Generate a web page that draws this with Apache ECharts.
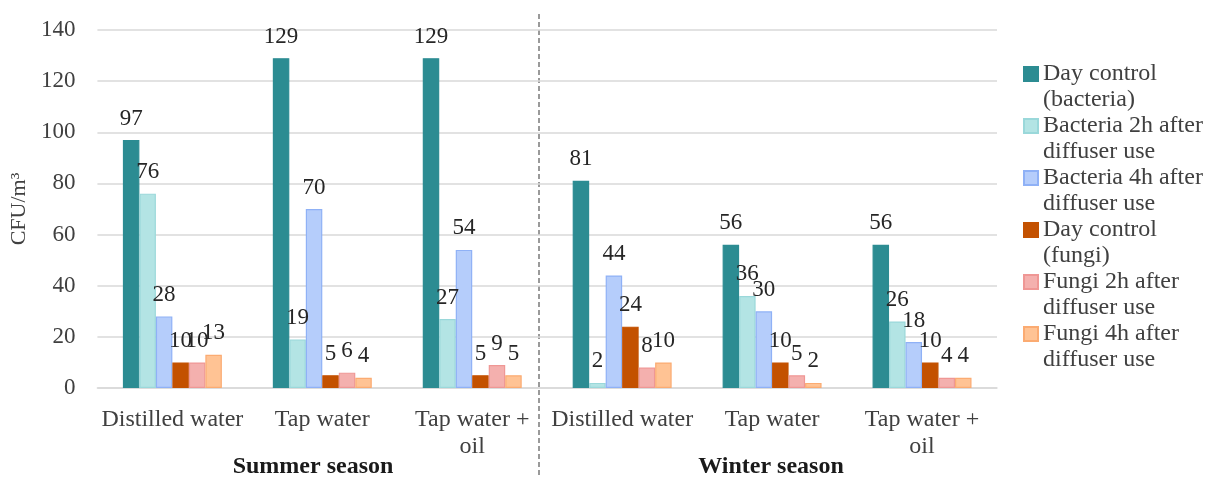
<!DOCTYPE html>
<html>
<head>
<meta charset="utf-8">
<script src="https://cdn.jsdelivr.net/npm/echarts@6/dist/echarts.min.js"></script>
<style>
  html, body { margin: 0; padding: 0; background: #ffffff; }
  #chart { width: 1210px; height: 477px; }
</style>
</head>
<body>
<div id="chart"></div>
<script>
// Water type per sampling, summer block then winter block
const categories = ['Distilled water', 'Tap water', 'Tap water +\noil', 'Distilled water', 'Tap water', 'Tap water +\noil'];
const seasons = ['Summer season', 'Winter season'];

const seriesNames = [
  'Day control (bacteria)',
  'Bacteria 2h after diffuser use',
  'Bacteria 4h after diffuser use',
  'Day control (fungi)',
  'Fungi 2h after diffuser use',
  'Fungi 4h after diffuser use'
];
const legendLabels = [
  'Day control\n(bacteria)',
  'Bacteria 2h after\ndiffuser use',
  'Bacteria 4h after\ndiffuser use',
  'Day control\n(fungi)',
  'Fungi 2h after\ndiffuser use',
  'Fungi 4h after\ndiffuser use'
];

// CFU/m3 values
const dayControlBacteria = [97, 129, 129, 81, 56, 56];
const bacteria2h = [76, 19, 27, 2, 36, 26];
const bacteria4h = [28, 70, 54, 44, 30, 18];
const dayControlFungi = [10, 5, 5, 24, 10, 10];
const fungi2h = [10, 6, 9, 8, 5, 4];
const fungi4h = [13, 4, 5, 10, 2, 4];

const yTicks = { min: 0, max: 140, interval: 20 };

const seriesValues = [dayControlBacteria, bacteria2h, bacteria4h, dayControlFungi, fungi2h, fungi4h];
const fills = ['#2c8c92', '#b3e4e4', '#b5cdfb', '#c35100', '#f4b0ae', '#ffc394'];
const borders = ['#2c8c92', '#9ad8da', '#8fb1f6', '#c35100', '#ef9795', '#fbab72'];

const FONT = '"Liberation Serif", "Times New Roman", serif';
const TEXT = '#404040';

const chart = echarts.init(document.getElementById('chart'), null, { renderer: 'canvas' });

const series = seriesNames.map((name, i) => ({
  name: name,
  type: 'bar',
  data: seriesValues[i],
  barGap: '0%',
  barCategoryGap: '34%',
  itemStyle: { color: fills[i], borderColor: borders[i], borderWidth: 1.2 },
  label: {
    show: true,
    position: 'top',
    distance: 10,
    color: '#262626',
    fontFamily: FONT,
    fontSize: 23
  },
  emphasis: { disabled: true }
}));

chart.setOption({
  animation: false,
  backgroundColor: '#ffffff',
  textStyle: { fontFamily: FONT },
  grid: { left: 95, right: 213, top: 30, bottom: 89, containLabel: false },
  legend: {
    orient: 'vertical',
    left: 1023,
    top: 35,
    padding: 0,
    icon: 'rect',
    itemWidth: 14,
    itemHeight: 14,
    itemGap: -26,
    data: seriesNames,
    // a leading empty line keeps the swatch level with the first text line
    formatter: function (name) { return '\n' + legendLabels[seriesNames.indexOf(name)]; },
    textStyle: {
      fontFamily: FONT,
      fontSize: 24,
      color: TEXT,
      lineHeight: 26
    }
  },
  xAxis: {
    type: 'category',
    data: categories,
    axisLine: { show: true, lineStyle: { color: '#d9d9d9', width: 1.5 } },
    axisTick: { show: false },
    axisLabel: {
      interval: 0,
      margin: 18,
      fontFamily: FONT,
      fontSize: 24,
      lineHeight: 27,
      color: TEXT
    }
  },
  yAxis: {
    type: 'value',
    min: yTicks.min,
    max: yTicks.max,
    interval: yTicks.interval,
    name: 'CFU/m³',
    nameLocation: 'middle',
    nameGap: 55,
    nameTextStyle: { fontFamily: FONT, fontSize: 22, color: TEXT },
    axisLine: { show: false },
    axisTick: { show: false },
    axisLabel: { margin: 22, fontFamily: FONT, fontSize: 23, color: TEXT },
    splitLine: { lineStyle: { color: '#d9d9d9', width: 1.5 } }
  },
  graphic: [
    {
      type: 'line',
      silent: true,
      shape: { x1: 539, y1: 14, x2: 539, y2: 477 },
      style: { stroke: '#9a9a9a', lineWidth: 2, lineDash: [5, 3] }
    },
    {
      type: 'text',
      x: 313, y: 467,
      style: { text: seasons[0], font: 'bold 24px ' + FONT, fill: '#1a1a1a', align: 'center', verticalAlign: 'middle' }
    },
    {
      type: 'text',
      x: 771, y: 467,
      style: { text: seasons[1], font: 'bold 24px ' + FONT, fill: '#1a1a1a', align: 'center', verticalAlign: 'middle' }
    }
  ],
  series: series
});
</script>
</body>
</html>
